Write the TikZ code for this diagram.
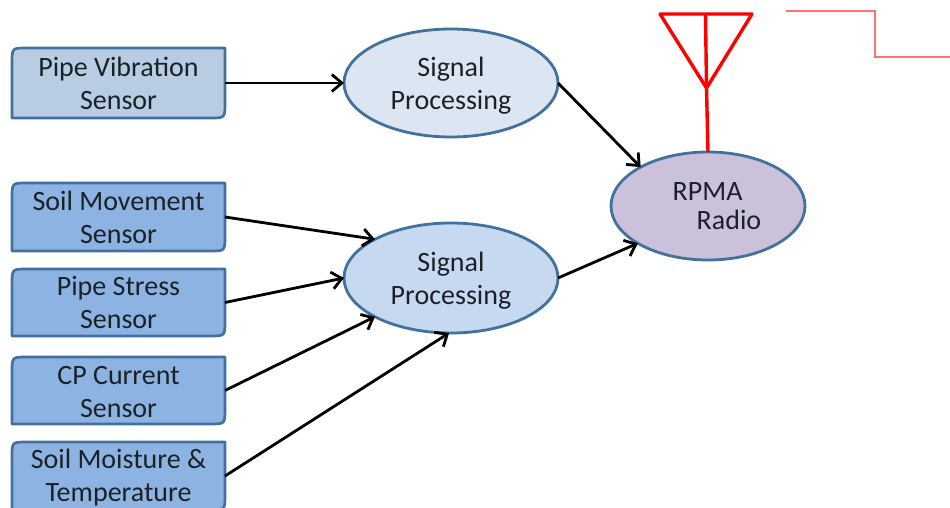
\documentclass[tikz,border=0pt]{standalone}
\usepackage{fontspec}
\setmainfont{Carlito}
\usetikzlibrary{shapes.geometric,arrows.meta}
\definecolor{edgeblue}{HTML}{41719C}
\definecolor{boxlight}{HTML}{B8CCE4}
\definecolor{boxmid}{HTML}{8DB3E2}
\definecolor{ovalone}{HTML}{DCE6F2}
\definecolor{ovaltwo}{HTML}{C6D9F1}
\definecolor{ovalradio}{HTML}{CCC1DA}
\definecolor{inktext}{HTML}{1A2228}
\tikzset{
  labeltext/.style={font=\fontsize{28}{33}\selectfont, text=inktext, align=center, inner sep=0pt, outer sep=0pt},
  sensorlabel/.style={inner sep=0pt, outer sep=0pt, minimum width=213pt, minimum height=68pt},
  sensoredge/.style={draw=edgeblue, line width=2.7pt, line join=round},
  oval/.style={ellipse, draw=edgeblue, line width=2.8pt, inner sep=0pt, outer sep=0pt, minimum width=214pt, minimum height=108pt},
  link/.style={draw=black, line width=2.8pt, -{Straight Barb[length=10pt,width=17pt,line width=2.8pt]}},
  antenna/.style={draw=red, line width=3.4pt, line join=round},
  redtrace/.style={draw=red!55, line width=2.8pt}
}
\newcommand{\sensorbox}[8]{%
  \path[sensoredge, fill=#1] (#2,#5) -- (#2,#3+15) .. controls (#2,#3) .. (#2+15,#3) -- (#4,#3) -- (#4,#5-15) .. controls (#4,#5) .. (#4-15,#5) -- cycle;
  \node[sensorlabel] (#6) at ({(#2+#4)/2},{(#3+#5)/2}) {};
  \node[labeltext] (#6text) at ({(#2+#4)/2},{(#3+#5)/2+#7}) {#8};}
\begin{document}
\begin{tikzpicture}[x=1pt,y=-1pt]
\useasboundingbox (0,0) rectangle (950,508);
\clip (0,0) rectangle (950,508);
\sensorbox{boxlight}{12}{48}{225}{118}{vib}{0}{Pipe Vibration\\Sensor}
\sensorbox{boxmid}{12}{183}{225}{251}{soil}{0}{Soil Movement\\Sensor}
\sensorbox{boxmid}{12}{269}{225}{336}{stress}{0}{Pipe Stress\\Sensor}
\sensorbox{boxmid}{12}{357}{225}{424}{cp}{2}{CP Current\\Sensor}
\sensorbox{boxmid}{12}{442}{225}{510}{moist}{1.5}{Soil Moisture \&\\Temperature}
\node[oval, fill=ovalone] (sp1) at (451,83) {};
\node[labeltext] (sp1text) at (451,86) {Signal\\Processing};
\node[oval, fill=ovaltwo, minimum height=110pt] (sp2) at (451,278) {};
\node[labeltext] (sp2text) at (451,281) {Signal\\Processing};
\node[oval, fill=ovalradio, minimum width=194pt] (radio) at (708,206) {};
\node[labeltext, align=left, font=\fontsize{28}{29}\selectfont] (radiotext) at (717,206) {RPMA\\\hspace{24pt}Radio};
\draw[link] (vib.east) -- (sp1.west);
\draw[link] (sp1.east) -- (radio.150);
\draw[link] (soil.east) -- (sp2.153);
\draw[link] (stress.east) -- (sp2.west);
\draw[link] (cp.east) -- (sp2.207);
\draw[link] (moist.east) -- (sp2.268);
\draw[link] (sp2.east) -- (radio.208);
\coordinate (tipl) at (660,14);
\coordinate (tipr) at (752,14);
\coordinate (tipm) at (705.5,14);
\coordinate (feed) at (706.5,88);
\draw[antenna] (tipl) -- (tipr) -- (feed) -- cycle;
\draw[antenna] (tipm) -- (feed) -- (radio.north);
\coordinate (ta) at (786,11);
\coordinate (tb) at (875,11);
\coordinate (tc) at (875,57);
\coordinate (td) at (950,57);
\draw[redtrace] (ta) -- (tb) -- (tc) -- (td);
\end{tikzpicture}
\end{document}
